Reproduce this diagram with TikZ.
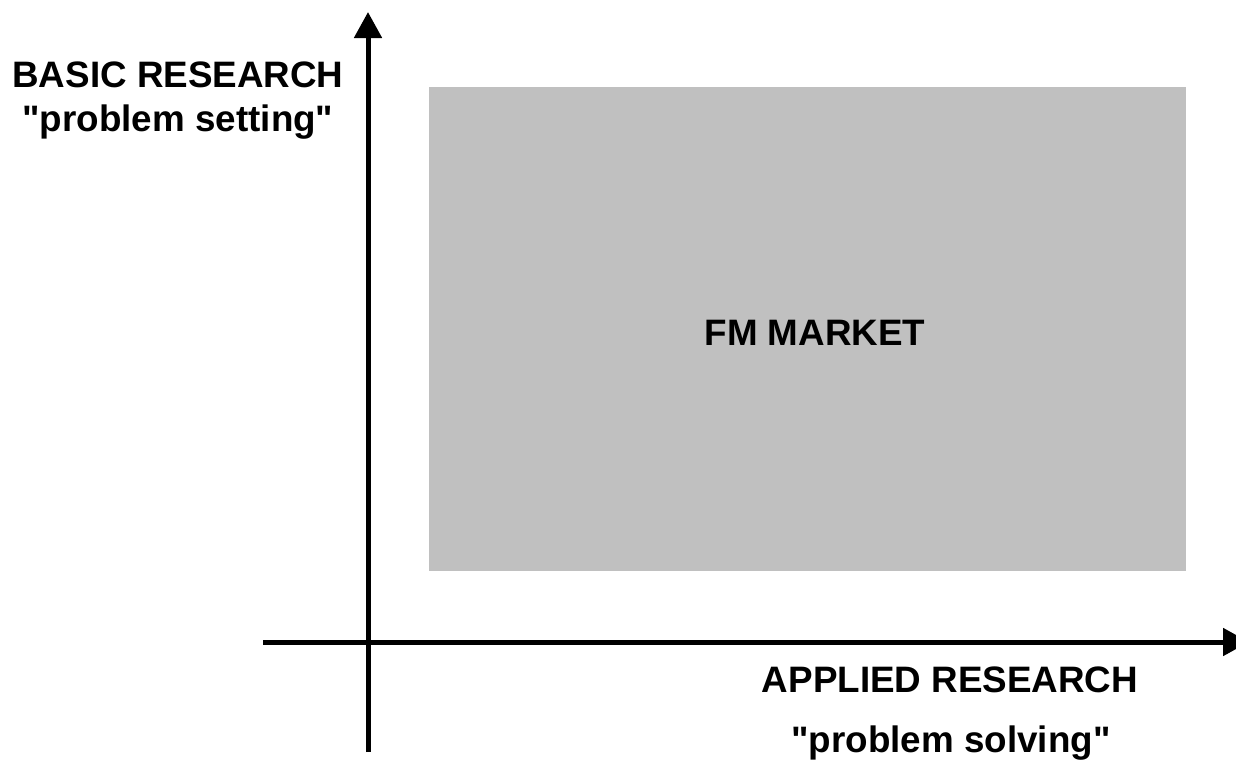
\documentclass[tikz,border=0pt]{standalone}
\usepackage{fontspec}
\newfontfamily\labfont{Liberation Sans}
\usetikzlibrary{arrows.meta}
\definecolor{boxgray}{RGB}{192,192,192}
\begin{document}
\begin{tikzpicture}[x=0.5pt,y=-0.5pt,
  axis/.style={line width=2.5pt,-{Triangle[length=13pt,width=13.5pt]}},
  lbl/.style={font=\labfont\fontsize{18.4}{22}\selectfont\bfseries,inner sep=0pt,anchor=base},
  market/.style={fill=boxgray,draw=none,inner sep=0pt,anchor=north west,minimum width=378.5pt,minimum height=242pt}]
\useasboundingbox (0,0) rectangle (1236,760);
\node[market] (box) at (429,87) {};
\coordinate (ybot) at (368,752);
\coordinate (ytop) at (368,12);
\coordinate (xleft) at (263,642);
\coordinate (xright) at (1249,642);
\draw[axis] (ybot) -- (ytop);
\draw[axis] (xleft) -- (xright);
\node[lbl] (basic1) at (178,87) {BASIC RESEARCH};
\node[lbl] (basic2) at (178,131) {"problem setting"};
\node[lbl] (fm) at (815,345) {FM MARKET};
\node[lbl] (applied1) at (950,692) {APPLIED RESEARCH};
\node[lbl] (applied2) at (951,752) {"problem solving"};
\end{tikzpicture}
\end{document}
